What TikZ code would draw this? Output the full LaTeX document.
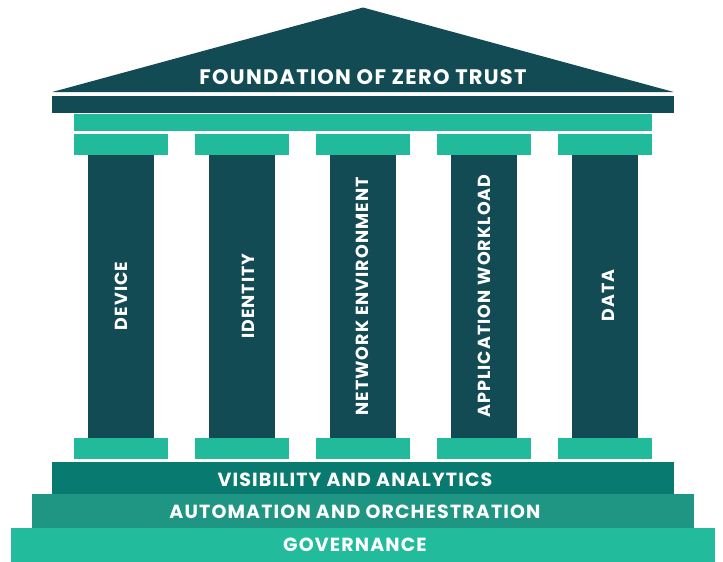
\documentclass[tikz,border=0pt]{standalone}
\usepackage{fontspec}
\setmainfont{Poppins}[LetterSpace=6]
\usepackage{xcolor}
\usetikzlibrary{positioning}
\definecolor{pillardark}{HTML}{124B54}
\definecolor{pillarlight}{HTML}{21BB9C}
\definecolor{visibility}{HTML}{087A70}
\definecolor{automation}{HTML}{1F9683}
\definecolor{governance}{HTML}{22BC9C}
\tikzset{
    % Plain filled block
    block/.style={
        rectangle,
        inner sep=0pt,
        outer sep=0pt,
        fill=#1,
        draw=none
    },
    % Column shaft
    shaft/.style={
        block=pillardark,
        minimum width=66pt,
        minimum height=283.5pt
    },
    % Rotated column label
    shaft text/.style={
        rotate=90,
        inner sep=0pt,
        font=\fontsize{17.5}{20}\selectfont\bfseries,
        text=white
    },
    % Capital and base of a column
    capblock/.style={
        block=pillarlight,
        minimum width=94pt,
        minimum height=20.6pt
    },
    % Base tier style
    tier/.style={
        block=#1,
        minimum height=33pt
    },
    % Tier label style
    tier text/.style={
        inner sep=0pt,
        font=\fontsize{19}{22}\selectfont\bfseries,
        text=white
    }
}
\begin{document}
\begin{tikzpicture}[x=1pt, y=-1pt]
        \useasboundingbox (0,0) rectangle (723,562);

        % Roof
        \coordinate (roofleft) at (52.3,92);
        \coordinate (roofright) at (673.7,92);
        \coordinate (apex) at (363,7.5);
        \fill[pillardark] (roofleft) -- (apex) -- (roofright) -- cycle;
        \node[font=\fontsize{21}{24}\selectfont\bfseries, text=white] (title) at (363,77) {FOUNDATION OF ZERO TRUST};

        % Entablature
        \node[block=pillardark, minimum width=621.4pt, minimum height=17.6pt] (cornice) at (363,104.5) {};
        \node[block=pillarlight, minimum width=578pt, minimum height=17.3pt] (architrave) at (363,122.4) {};

        % Capitals
        \node[capblock] (cap1) at (121,144.2) {};
        \node[capblock] (cap2) at (242,144.2) {};
        \node[capblock] (cap3) at (363,144.2) {};
        \node[capblock] (cap4) at (484,144.2) {};
        \node[capblock] (cap5) at (605,144.2) {};

        % Shafts
        \node[shaft] (shaft1) at (121,296.8) {};
        \node[shaft] (shaft2) at (242,296.8) {};
        \node[shaft] (shaft3) at (363,296.8) {};
        \node[shaft] (shaft4) at (484,296.8) {};
        \node[shaft] (shaft5) at (605,296.8) {};
        \node[shaft text] (device) at (121,296) {DEVICE};
        \node[shaft text] (identity) at (248,296) {IDENTITY};
        \node[shaft text] (network) at (362.5,296.5) {NETWORK ENVIRONMENT};
        \node[shaft text] (workload) at (484.7,296) {APPLICATION WORKLOAD};
        \node[shaft text] (data) at (608,295.7) {DATA};

        % Column bases
        \node[capblock] (base1) at (121,448.6) {};
        \node[capblock] (base2) at (242,448.6) {};
        \node[capblock] (base3) at (363,448.6) {};
        \node[capblock] (base4) at (484,448.6) {};
        \node[capblock] (base5) at (605,448.6) {};

        % Foundation tiers
        \node[tier=visibility, minimum width=621.4pt, minimum height=31.7pt] (visib) at (363,477.9) {};
        \node[tier=automation, minimum width=662.6pt, minimum height=34.6pt] (autom) at (363,511) {};
        \node[tier=governance, minimum width=703.4pt, minimum height=33.7pt] (gov) at (363,545.2) {};
        \node[tier text] (visiblabel) at (355,479.8) {VISIBILITY AND ANALYTICS};
        \node[tier text] (automlabel) at (355,511.7) {AUTOMATION AND ORCHESTRATION};
        \node[tier text] (govlabel) at (355,544.7) {GOVERNANCE};

    \end{tikzpicture}
\end{document}
